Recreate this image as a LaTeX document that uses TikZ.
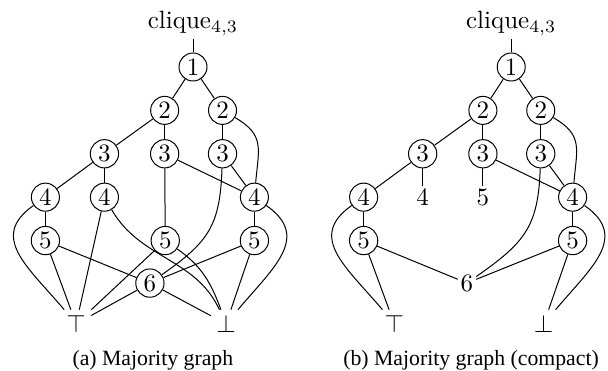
\documentclass[tikz,border=0pt]{standalone}
\usepackage{fontspec}
\newfontfamily\capfont{Liberation Serif}

\begin{document}
\begin{tikzpicture}[x=0.83cm, y=0.61cm,
  vtx/.style={circle, draw, inner sep=1pt, minimum size=11.2pt},
  lbl/.style={inner sep=1pt},
  term/.style={inner sep=2pt},
  subcap/.style={font=\capfont\fontsize{8.7}{10}\selectfont, anchor=base}]
  \useasboundingbox (-3.269,1.544) rectangle (7.029,-7.006);

  % (a) majority graph
  \node[lbl] (aq) at (0,1) {clique$_{4,3}$};
  \node[vtx] (a1) at (0,0) {1};
  \node[vtx] (a2l) at (-0.48,-1) {2};
  \node[vtx] (a2r) at (0.5,-1) {2};
  \node[vtx] (a3l) at (-1.5,-2) {3};
  \node[vtx] (a3m) at (-0.48,-2) {3};
  \node[vtx] (a3r) at (0.5,-2) {3};
  \node[vtx] (a4l) at (-2.5,-3) {4};
  \node[vtx] (a4m) at (-1.5,-3) {4};
  \node[vtx] (a4r) at (1.04,-3) {4};
  \node[vtx] (a5l) at (-2.5,-4) {5};
  \node[vtx] (a5m) at (-0.47,-4) {5};
  \node[vtx] (a5r) at (1.04,-4) {5};
  \node[vtx] (a6) at (-0.73,-4.98) {6};
  \node[term] (aT) at (-1.98,-5.92) {$\top$};
  \node[term] (aF) at (0.56,-5.92) {$\bot$};
  \node[subcap] (acap) at (-0.68,-6.87) {(a) Majority graph};

  \draw (aq) -- (a1);
  \draw (a1) -- (a2l);
  \draw (a1) -- (a2r);
  \draw (a2l) -- (a3l);
  \draw (a2l) -- (a3m);
  \draw (a2r) -- (a3r);
  \draw (a2r) to[out=-30, in=85, looseness=1.3] (a4r);
  \draw (a3l) -- (a4l);
  \draw (a3l) -- (a4m);
  \draw (a3m) -- (a5m);
  \draw (a3m) -- (a4r);
  \draw (a3r) -- (a4r);
  \draw (a3r) to[out=-92, in=35, looseness=1.2] (a6);
  \draw (a4l) -- (a5l);
  \draw (a4l) to[out=-145, in=130, looseness=1.3] (aT);
  \draw (a4m) -- (aT);
  \draw (a4m) to[out=-60, in=115] (aF);
  \draw (a4r) -- (a5r);
  \draw (a4r) to[out=-35, in=50, looseness=1.3] (aF);
  \draw (a5l) -- (aT);
  \draw (a5l) -- (a6);
  \draw (a5m) -- (aT);
  \draw (a5m) to[out=-35, in=110] (aF);
  \draw (a5r) -- (a6);
  \draw (a5r) -- (aF);
  \draw (a6) -- (aT);
  \draw (a6) -- (aF);

  % (b) compact version
  \begin{scope}[shift={(5.39,0)}]
    \node[lbl] (bq) at (0,1) {clique$_{4,3}$};
    \node[vtx] (b1) at (0,0) {1};
    \node[vtx] (b2l) at (-0.48,-1) {2};
    \node[vtx] (b2r) at (0.5,-1) {2};
    \node[vtx] (b3l) at (-1.5,-2) {3};
    \node[vtx] (b3m) at (-0.48,-2) {3};
    \node[vtx] (b3r) at (0.5,-2) {3};
    \node[vtx] (b4l) at (-2.5,-3) {4};
    \node[lbl] (b4m) at (-1.5,-3) {4};
    \node[lbl] (b5m) at (-0.48,-3) {5};
    \node[vtx] (b4r) at (1.04,-3) {4};
    \node[vtx] (b5l) at (-2.5,-4) {5};
    \node[vtx] (b5r) at (1.04,-4) {5};
    \node[lbl] (b6) at (-0.75,-4.98) {6};
    \node[term] (bT) at (-1.98,-5.92) {$\top$};
    \node[term] (bF) at (0.55,-5.92) {$\bot$};
    \node[subcap] (bcap) at (-0.68,-6.87) {(b) Majority graph (compact)};

    \draw (bq) -- (b1);
    \draw (b1) -- (b2l);
    \draw (b1) -- (b2r);
    \draw (b2l) -- (b3l);
    \draw (b2l) -- (b3m);
    \draw (b2r) -- (b3r);
    \draw (b2r) to[out=-30, in=85, looseness=1.3] (b4r);
    \draw (b3l) -- (b4l);
    \draw (b3l) -- (b4m);
    \draw (b3m) -- (b5m);
    \draw (b3m) -- (b4r);
    \draw (b3r) -- (b4r);
    \draw (b3r) to[out=-92, in=35, looseness=1.2] (b6);
    \draw (b4l) -- (b5l);
    \draw (b4l) to[out=-145, in=130, looseness=1.3] (bT);
    \draw (b4r) -- (b5r);
    \draw (b4r) to[out=-35, in=50, looseness=1.3] (bF);
    \draw (b5l) -- (bT);
    \draw (b5l) -- (b6);
    \draw (b5r) -- (b6);
    \draw (b5r) -- (bF);
  \end{scope}
\end{tikzpicture}
\end{document}
